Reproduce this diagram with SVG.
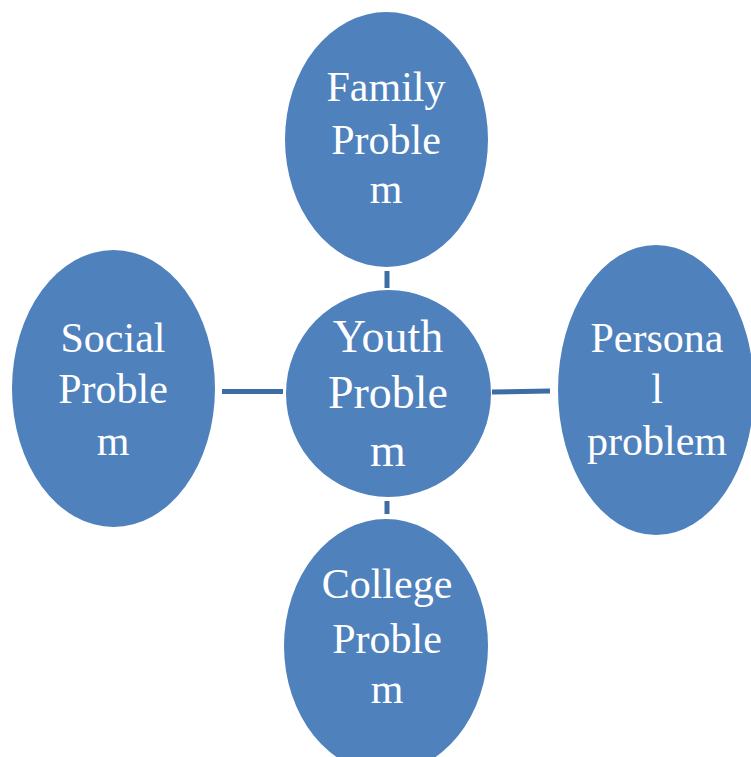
<svg xmlns="http://www.w3.org/2000/svg" width="751" height="757" viewBox="0 0 751 757">
<style>
.node{fill:#4F81BD;}
.lbl{font-family:"Liberation Serif","Times New Roman",serif;fill:#FFFFFF;text-anchor:middle;font-size:42px;}
.big{font-size:46px;}
.conn{stroke:#3E6CA5;stroke-width:5;fill:none;}
</style>
<rect width="751" height="757" fill="#FFFFFF"/>
<g id="connectors">
<line class="conn" x1="387" y1="271" x2="387" y2="288"/>
<line class="conn" x1="222" y1="391.5" x2="283" y2="391.5"/>
<line class="conn" x1="492" y1="392" x2="550" y2="391"/>
<line class="conn" x1="387" y1="501" x2="387" y2="514"/>
</g>
<g id="family">
<ellipse class="node" cx="386.5" cy="139.5" rx="101.5" ry="127.5"/>
<text class="lbl" x="386" y="101">Family</text>
<text class="lbl" x="386" y="154">Proble</text>
<text class="lbl" x="386" y="203">m</text>
</g>
<g id="youth">
<ellipse class="node" cx="388.5" cy="393.5" rx="102.5" ry="103.5"/>
<text class="lbl big" x="388" y="352">Youth</text>
<text class="lbl big" x="388" y="408">Proble</text>
<text class="lbl big" x="388" y="466">m</text>
</g>
<g id="social">
<ellipse class="node" cx="113.5" cy="388.5" rx="101.5" ry="138.5"/>
<text class="lbl" x="113" y="352">Social</text>
<text class="lbl" x="113" y="403">Proble</text>
<text class="lbl" x="113" y="455">m</text>
</g>
<g id="personal">
<ellipse class="node" cx="656" cy="390" rx="98" ry="145"/>
<text class="lbl" x="657" y="352">Persona</text>
<text class="lbl" x="657" y="403">l</text>
<text class="lbl" x="657" y="455">problem</text>
</g>
<g id="college">
<ellipse class="node" cx="386" cy="646" rx="102" ry="127"/>
<text class="lbl" x="387" y="598">College</text>
<text class="lbl" x="387" y="653">Proble</text>
<text class="lbl" x="387" y="703">m</text>
</g>
</svg>
